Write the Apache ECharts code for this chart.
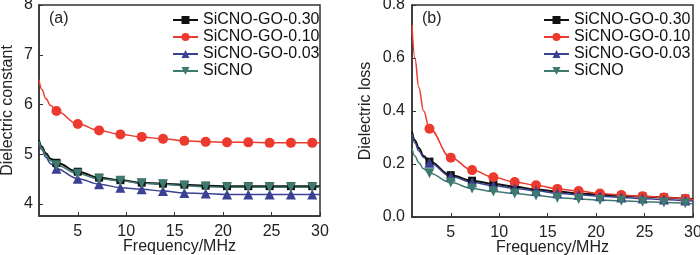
<!DOCTYPE html>
<html>
<head>
<meta charset="utf-8">
<script src="https://cdn.jsdelivr.net/npm/echarts@6/dist/echarts.min.js"></script>
<style>
  html, body { margin: 0; padding: 0; background: #fff; }
  #chart { width: 700px; height: 255px; }
</style>
</head>
<body>
<div id="chart"></div>
<script>
// frequency points (MHz); markers are drawn only on markFreq
var freq = [1, 1.3, 1.7, 2.2, 2.8, 5, 7.2, 9.4, 11.6, 13.8, 16, 18.2, 20.4, 22.6, 24.8, 27, 29.2, 30];
var markFreq = [2.8, 5, 7.2, 9.4, 11.6, 13.8, 16, 18.2, 20.4, 22.6, 24.8, 27, 29.2];
var names = ['SiCNO-GO-0.30', 'SiCNO-GO-0.10', 'SiCNO-GO-0.03', 'SiCNO'];
var xTicks = [5, 10, 15, 20, 25, 30];
var yTicksA = [4, 5, 6, 7, 8];

// (a) dielectric constant
var constGO30 = [5.28, 5.15, 5.02, 4.91, 4.83, 4.65, 4.53, 4.48, 4.43, 4.41, 4.39, 4.37, 4.36, 4.36, 4.36, 4.36, 4.36, 4.36];
var constGO10 = [6.50, 6.30, 6.12, 5.98, 5.87, 5.61, 5.48, 5.40, 5.35, 5.31, 5.27, 5.25, 5.24, 5.24, 5.23, 5.23, 5.23, 5.23];
var constGO03 = [5.24, 5.09, 4.94, 4.81, 4.71, 4.51, 4.40, 4.33, 4.30, 4.26, 4.22, 4.21, 4.19, 4.19, 4.19, 4.19, 4.19, 4.19];
var constSiCNO = [5.26, 5.12, 4.98, 4.87, 4.78, 4.61, 4.51, 4.47, 4.42, 4.40, 4.37, 4.35, 4.34, 4.34, 4.34, 4.34, 4.34, 4.34];

// (b) dielectric loss
var lossGO30 = [0.322, 0.29, 0.26, 0.23, 0.209, 0.158, 0.137, 0.125, 0.114, 0.104, 0.096, 0.089, 0.084, 0.080, 0.077, 0.074, 0.070, 0.068];
var lossGO10 = [0.725, 0.60, 0.49, 0.40, 0.333, 0.224, 0.177, 0.150, 0.132, 0.120, 0.106, 0.098, 0.089, 0.083, 0.078, 0.074, 0.069, 0.066];
var lossGO03 = [0.312, 0.28, 0.25, 0.225, 0.205, 0.153, 0.131, 0.118, 0.108, 0.099, 0.090, 0.084, 0.078, 0.074, 0.070, 0.066, 0.062, 0.060];
var lossSiCNO = [0.26, 0.23, 0.205, 0.182, 0.165, 0.130, 0.108, 0.096, 0.089, 0.081, 0.073, 0.068, 0.064, 0.061, 0.058, 0.055, 0.052, 0.050];

var colors = ['#111111', '#ec3a2e', '#3a4192', '#3f7a70'];
var symbols = ['rect', 'circle', 'triangle', 'triangle'];
var rotates = [0, 0, 0, 180];
var sizes = [8, 10, 10, 10];

var chart = echarts.init(document.getElementById('chart'));
var font = 'Liberation Sans, Arial, sans-serif';

function buildData(ys) {
    return freq.map(function (f, i) {
        if (markFreq.indexOf(f) >= 0) return [f, ys[i]];
        return { value: [f, ys[i]], symbol: 'none' };
    });
}

function makeSeries(ys, k, idx) {
    return {
        name: names[k],
        type: 'line',
        xAxisIndex: idx,
        yAxisIndex: idx,
        data: buildData(ys),
        smooth: 0.4,
        smoothMonotone: 'x',
        symbol: symbols[k],
        symbolRotate: rotates[k],
        symbolSize: sizes[k],
        showAllSymbol: true,
        color: colors[k],
        lineStyle: { width: k == 0 ? 2 : 1.5, color: colors[k] },
        itemStyle: { color: colors[k] },
        animation: false
    };
}

function xAxisOpt(idx) {
    return {
        type: 'value', gridIndex: idx, min: 1, max: 30,
        name: 'Frequency/MHz', nameLocation: 'middle', nameGap: 23, nameMoveOverlap: false,
        nameTextStyle: { fontSize: 16, color: '#222', fontFamily: font },
        axisLine: { lineStyle: { color: '#333', width: 1.5 } },
        axisTick: { inside: true, length: 4, customValues: xTicks, lineStyle: { color: '#333' } },
        axisLabel: { customValues: xTicks, fontSize: 16, color: '#222', fontFamily: font, margin: 8 },
        splitLine: { show: false }
    };
}

function legendOpt(left) {
    return {
        data: names, left: left, top: 7, orient: 'vertical',
        itemWidth: 25, itemHeight: 10, itemGap: 1,
        textStyle: { fontSize: 16, color: '#111', fontFamily: font, lineHeight: 16 }
    };
}

var option = {
    backgroundColor: '#fff',
    title: [
        { text: '(a)', left: 44, top: 6, textStyle: { fontSize: 16, fontWeight: 'normal', color: '#222', fontFamily: font } },
        { text: '(b)', left: 417, top: 6, textStyle: { fontSize: 16, fontWeight: 'normal', color: '#222', fontFamily: font } }
    ],
    legend: [legendOpt(167), legendOpt(538)],
    grid: [
        { left: 39, right: 380, top: 5, bottom: 39, outerBoundsMode: 'none', show: true, borderColor: '#333', borderWidth: 1.5 },
        { left: 412, right: 7, top: 5, bottom: 38, outerBoundsMode: 'none', show: true, borderColor: '#333', borderWidth: 1.5 }
    ],
    xAxis: [xAxisOpt(0), xAxisOpt(1)],
    yAxis: [
        {
            type: 'value', gridIndex: 0, min: 3.76, max: 8,
            name: 'Dielectric constant', nameLocation: 'middle', nameGap: 23, nameMoveOverlap: false,
            nameTextStyle: { fontSize: 16, color: '#222', fontFamily: font },
            axisLine: { show: true, lineStyle: { color: '#333', width: 1.5 } },
            axisTick: { show: true, inside: true, length: 4, customValues: yTicksA, lineStyle: { color: '#333' } },
            axisLabel: { customValues: yTicksA, fontSize: 16, color: '#222', fontFamily: font, margin: 6 },
            splitLine: { show: false }
        },
        {
            type: 'value', gridIndex: 1, min: 0, max: 0.8, interval: 0.2,
            name: 'Dielectric loss', nameLocation: 'middle', nameGap: 38, nameMoveOverlap: false,
            nameTextStyle: { fontSize: 16, color: '#222', fontFamily: font },
            axisLine: { show: true, lineStyle: { color: '#333', width: 1.5 } },
            axisTick: { show: true, inside: true, length: 4, lineStyle: { color: '#333' } },
            axisLabel: { fontSize: 16, color: '#222', fontFamily: font, margin: 7,
                formatter: function (v) { return v.toFixed(1); } },
            splitLine: { show: false }
        }
    ],
    series: [
        makeSeries(constGO30, 0, 0),
        makeSeries(constGO10, 1, 0),
        makeSeries(constGO03, 2, 0),
        makeSeries(constSiCNO, 3, 0),
        makeSeries(lossGO30, 0, 1),
        makeSeries(lossGO10, 1, 1),
        makeSeries(lossGO03, 2, 1),
        makeSeries(lossSiCNO, 3, 1)
    ]
};
chart.setOption(option);
</script>
</body>
</html>
